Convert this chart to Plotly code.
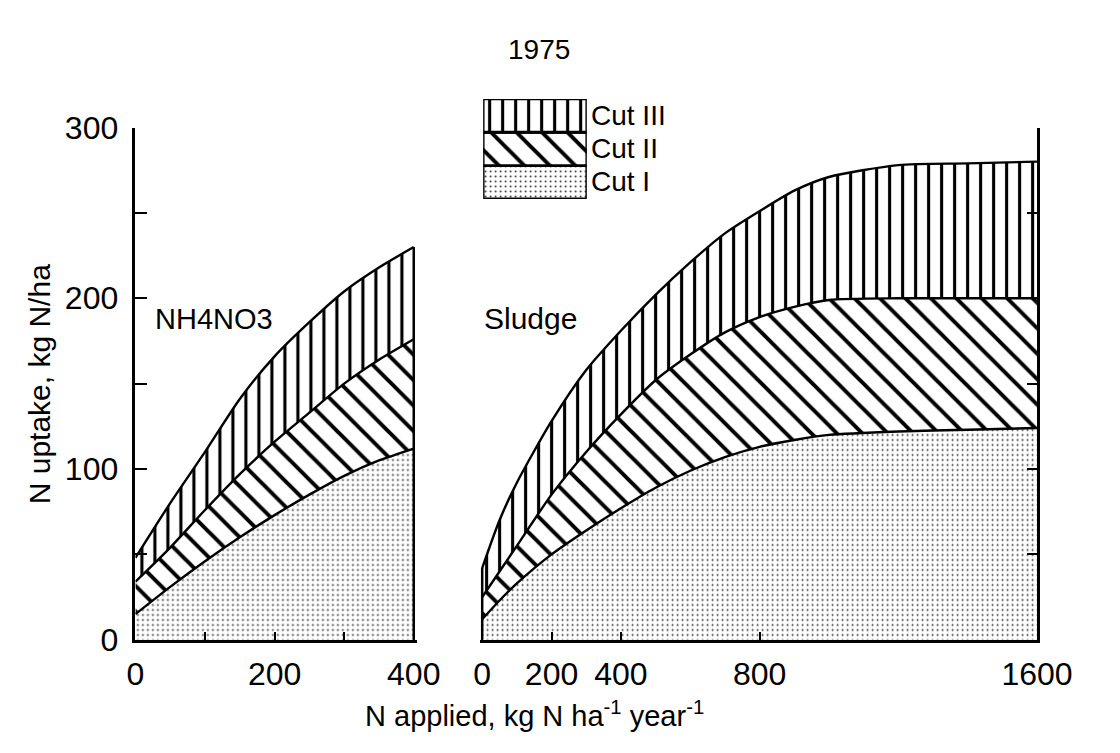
import plotly.graph_objects as go

# ---- data: N uptake (kg N/ha) per cut, 1975 ----
YEAR = "1975"
CUTS = ["Cut I", "Cut II", "Cut III"]

# NH4NO3 treatment
NH4_X = [0, 50, 100, 150, 200, 250, 300, 350, 400]
NH4_CUT1 = [15, 31, 46, 60, 73, 85, 96, 105, 112]
NH4_CUT2 = [19, 23, 30, 37, 43, 48, 54, 59, 64]
NH4_CUT3 = [14, 26, 34, 44, 50, 53, 54, 54, 54]

# Sludge treatment
SLUDGE_X = [0, 50, 100, 200, 300, 400, 500, 600, 700, 800, 900, 1000, 1200, 1400, 1600]
SLUDGE_CUT1 = [12, 23, 33, 50, 64, 77, 89, 99, 107, 113, 117, 120, 122, 123, 124]
SLUDGE_CUT2 = [13, 17, 22, 35, 46, 55, 63, 68, 73, 76, 78, 79, 78, 77, 76]
SLUDGE_CUT3 = [17, 30, 37, 43, 48, 49, 50, 54, 58, 62, 68, 72, 78, 79, 80]

NH4_XTICKS = [0, 200, 400]
NH4_XMINOR = 100
SLUDGE_XTICKS = [0, 200, 400, 800, 1600]
Y_TICKS = [0, 100, 200, 300]
Y_MINOR = 50

# ---- page geometry (pixels) ----
W, H = 1120, 753
FONT = "Liberation Sans, Arial, Helvetica, sans-serif"


def fx(p):
    return p / W


def fy(p):
    return 1 - p / H


PLOT_TOP, PLOT_BOTTOM = 115, 653
LEFT_X0, LEFT_PX_PER_UNIT = 131.7, 290.0 / 400
RIGHT_X1, RIGHT_PX_PER_UNIT = 1071.0, 578.0 / 1600

PATTERNS = {
    "Cut I": dict(shape=".", size=5, solidity=0.12, fgcolor="#333333", bgcolor="white",
                  fgopacity=1),
    "Cut II": dict(shape="\\", size=18, solidity=0.22, fgcolor="black", bgcolor="white",
                   fgopacity=1),
    "Cut III": dict(shape="|", size=13, solidity=0.24, fgcolor="black", bgcolor="white",
                    fgopacity=1),
}
EDGE = dict(color="black", width=2.5)
BOUND = dict(color="black", width=2.4, shape="spline", smoothing=0.7)

fig = go.Figure()


def cumulate(series):
    out, run = [], [0] * len(series[0])
    for ys in series:
        run = [a + b for a, b in zip(run, ys)]
        out.append(run)
    return out


def add_stack(xs, series, xa, ya):
    tops = cumulate(series)
    for i, (name, ys) in enumerate(zip(CUTS, tops)):
        fig.add_trace(go.Scatter(
            x=xs, y=ys, xaxis=xa, yaxis=ya, mode="lines", line=BOUND,
            fill="tozeroy" if i == 0 else "tonexty", fillcolor="white",
            fillpattern=PATTERNS[name], showlegend=False, hoverinfo="skip",
        ))
    return tops[-1]


nh4_total = add_stack(NH4_X, [NH4_CUT1, NH4_CUT2, NH4_CUT3], "x", "y")
sludge_total = add_stack(SLUDGE_X, [SLUDGE_CUT1, SLUDGE_CUT2, SLUDGE_CUT3], "x2", "y2")

# closing edges of the stacked areas
fig.add_trace(go.Scatter(x=[NH4_X[-1]] * 2, y=[0, nh4_total[-1]], xaxis="x", yaxis="y",
                         mode="lines", line=EDGE, showlegend=False, hoverinfo="skip"))
fig.add_trace(go.Scatter(x=[SLUDGE_X[0]] * 2, y=[0, sludge_total[0]], xaxis="x2", yaxis="y2",
                         mode="lines", line=EDGE, showlegend=False, hoverinfo="skip"))

# key: three patterned boxes stacked (Cut I at bottom)
for i, name in enumerate(CUTS):
    fig.add_trace(go.Scatter(
        x=[0, 1, 1, 0, 0], y=[i, i, i + 1, i + 1, i], xaxis="x3", yaxis="y3",
        mode="lines", fill="toself", fillcolor="white", fillpattern=PATTERNS[name],
        line=dict(color="black", width=2.8), showlegend=False, hoverinfo="skip",
    ))

x_pad_left = 4
x_pad_right = 6
axis_common = dict(showline=True, linecolor="black", linewidth=2.5, ticks="inside",
                   tickcolor="black", tickwidth=2, showgrid=False, zeroline=False,
                   tickfont=dict(family=FONT, size=32, color="black"))

fig.update_layout(
    width=W, height=H, margin=dict(l=0, r=0, t=0, b=0),
    paper_bgcolor="white", plot_bgcolor="rgba(0,0,0,0)",
    xaxis=dict(axis_common, domain=[fx(LEFT_X0), fx(LEFT_X0 + (400 + x_pad_left) * LEFT_PX_PER_UNIT)],
               range=[0, 400 + x_pad_left], anchor="y", ticklen=8,
               tickvals=NH4_XTICKS, ticklabelstandoff=4,
               minor=dict(tick0=0, dtick=NH4_XMINOR, ticks="inside", ticklen=8,
                          tickwidth=2, tickcolor="black", showgrid=False)),
    yaxis=dict(axis_common, domain=[fy(PLOT_BOTTOM), fy(PLOT_TOP)], range=[0, 300],
               anchor="x", ticklen=12, tickvals=Y_TICKS, ticklabelstandoff=8,
               minor=dict(tick0=0, dtick=Y_MINOR, ticks="inside", ticklen=12,
                          tickwidth=2, tickcolor="black", showgrid=False)),
    xaxis2=dict(axis_common,
                domain=[fx(RIGHT_X1 - (1600 + x_pad_right) * RIGHT_PX_PER_UNIT), fx(RIGHT_X1)],
                range=[-x_pad_right, 1600], anchor="y2", ticklen=8,
                tickvals=SLUDGE_XTICKS, ticklabelstandoff=4),
    yaxis2=dict(axis_common, domain=[fy(PLOT_BOTTOM), fy(PLOT_TOP)], range=[0, 300],
                anchor="x2", side="right", ticklen=10, tickvals=Y_TICKS,
                showticklabels=False,
                minor=dict(tick0=0, dtick=Y_MINOR, ticks="inside", ticklen=10,
                           tickwidth=2, tickcolor="black", showgrid=False)),
    xaxis3=dict(domain=[fx(494), fx(602)], range=[0, 1], visible=False, anchor="y3"),
    yaxis3=dict(domain=[fy(190), fy(85)], range=[0, 3], visible=False, anchor="x3"),
)

annotations = [
    dict(text=YEAR, x=fx(552), y=fy(33), size=28),
    dict(text="N applied, kg N ha<sup>-1</sup> year<sup>-1</sup>", x=fx(548), y=fy(752),
         size=29, yanchor="bottom"),
    dict(text="N uptake, kg N/ha", x=fx(32), y=fy(385), size=30, textangle=-90),
    dict(text="NH4NO3", x=fx(214), y=fy(316), size=29),
    dict(text="Sludge", x=fx(543), y=fy(316), size=30),
]
for i, name in enumerate(CUTS):
    annotations.append(dict(text=name, x=fx(604), y=fy(172 - 35 * i), size=28, xanchor="left"))

fig.update_layout(annotations=[
    dict(text=a["text"], x=a["x"], y=a["y"], xref="paper", yref="paper",
         showarrow=False, xanchor=a.get("xanchor", "center"),
         yanchor=a.get("yanchor", "middle"),
         textangle=a.get("textangle", 0),
         font=dict(family=FONT, size=a["size"], color="black"))
    for a in annotations
])

fig.write_html("out.html")
